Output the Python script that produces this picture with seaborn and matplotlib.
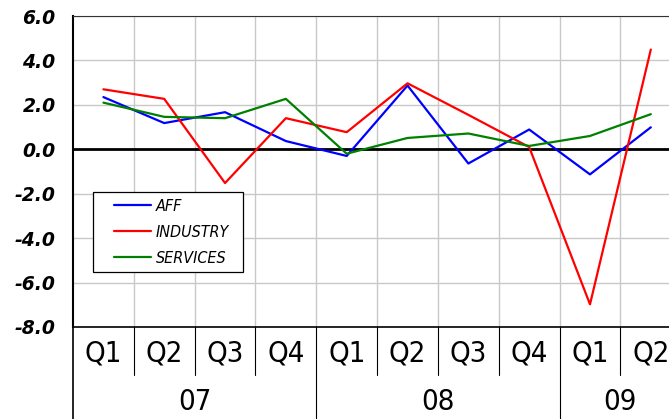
import seaborn as sns
import matplotlib.pyplot as plt
from matplotlib.patches import Rectangle
import pandas as pd

quarters = ["Q1", "Q2", "Q3", "Q4", "Q1", "Q2", "Q3", "Q4", "Q1", "Q2"]
years = ["07", "08", "09"]
year_spans = [(0, 3), (4, 7), (8, 9)]

aff = [2.35, 1.18, 1.67, 0.37, -0.30, 2.87, -0.64, 0.89, -1.13, 0.99]
industry = [2.70, 2.27, -1.52, 1.40, 0.77, 2.97, 1.55, 0.10, -6.98, 4.49]
services = [2.10, 1.46, 1.40, 2.27, -0.20, 0.51, 0.71, 0.15, 0.60, 1.58]

series = {"AFF": aff, "INDUSTRY": industry, "SERVICES": services}
colors = {"AFF": "#0000ff", "INDUSTRY": "#ff0000", "SERVICES": "#008000"}

rows = []
for name, vals in series.items():
    for i, v in enumerate(vals):
        rows.append({"pos": i, "value": v, "series": name})
df = pd.DataFrame(rows)

sns.set_style("white")
plt.rcParams["font.family"] = ["Liberation Sans Narrow", "DejaVu Sans"]
plt.rcParams["font.stretch"] = "condensed"
plt.rcParams["text.color"] = "black"
plt.rcParams["ytick.color"] = "black"

fig = plt.figure(figsize=(6.69, 4.19), dpi=100)
ax = fig.add_axes([0.1091, 0.2196, 0.891, 0.7422])

sns.lineplot(data=df, x="pos", y="value", hue="series", palette=colors,
             linewidth=1.6, ax=ax)

ax.set_xlim(-0.5, 9.3)
ax.set_ylim(-8, 6)
ax.set_yticks(range(-8, 7, 2))
ax.set_yticklabels([f"{v:.1f}" for v in range(-8, 7, 2)],
                   fontsize=13.5, fontweight="bold", fontstyle="italic",
                   family=["DejaVu Sans"], fontstretch="normal")
ax.tick_params(axis="y", length=5.5, width=1, color="black", pad=7)

# grid
ax.set_xticks([i + 0.5 for i in range(9)], minor=True)
ax.set_xticks(range(10))
ax.set_xticklabels([])
ax.tick_params(axis="x", which="both", length=0)
ax.grid(True, which="minor", axis="x", color="#c8c8c8", linewidth=1)
ax.grid(True, which="major", axis="y", color="#c8c8c8", linewidth=1)
ax.axhline(0, color="black", linewidth=2, zorder=1.5)

ax.spines["right"].set_visible(False)
ax.spines["top"].set_color("#333333")
ax.spines["left"].set_color("black")
ax.spines["left"].set_linewidth(1.5)
ax.spines["bottom"].set_color("black")
ax.spines["bottom"].set_linewidth(1.2)

# category table below the axis
tr = ax.get_xaxis_transform()
for i, q in enumerate(quarters):
    ax.text(i, -0.085, q, transform=tr, ha="center", va="center",
            fontsize=21)
for i in range(9):
    if i in (3, 7):
        continue
    ax.plot([i + 0.5, i + 0.5], [0, -0.154], transform=tr, color="black",
            linewidth=0.8, clip_on=False)
for b in (-0.5, 3.5, 7.5):
    ax.plot([b, b], [0, -0.30], transform=tr, color="black",
            linewidth=1.2 if b == -0.5 else 0.8, clip_on=False)
for label, (a, b) in zip(years, year_spans):
    ax.text((a + b) / 2, -0.242, label, transform=tr, ha="center",
            va="center", fontsize=21)

ax.set_xlabel("")
ax.set_ylabel("")

# legend: entries without frame, box drawn separately
leg = ax.legend(loc="upper left", bbox_to_anchor=(0.0688, 0.4116),
                borderaxespad=0, borderpad=0, frameon=False,
                handlelength=2.3, handletextpad=0.3,
                prop={"style": "italic", "size": 11.5},
                labelspacing=0.68)
leg.set_zorder(5)
ax.add_patch(Rectangle((0.0336, 0.1768), 0.2516, 0.2573,
                       transform=ax.transAxes, facecolor="white",
                       edgecolor="black", linewidth=0.9, zorder=4))

fig.savefig("out.png", dpi=100)
